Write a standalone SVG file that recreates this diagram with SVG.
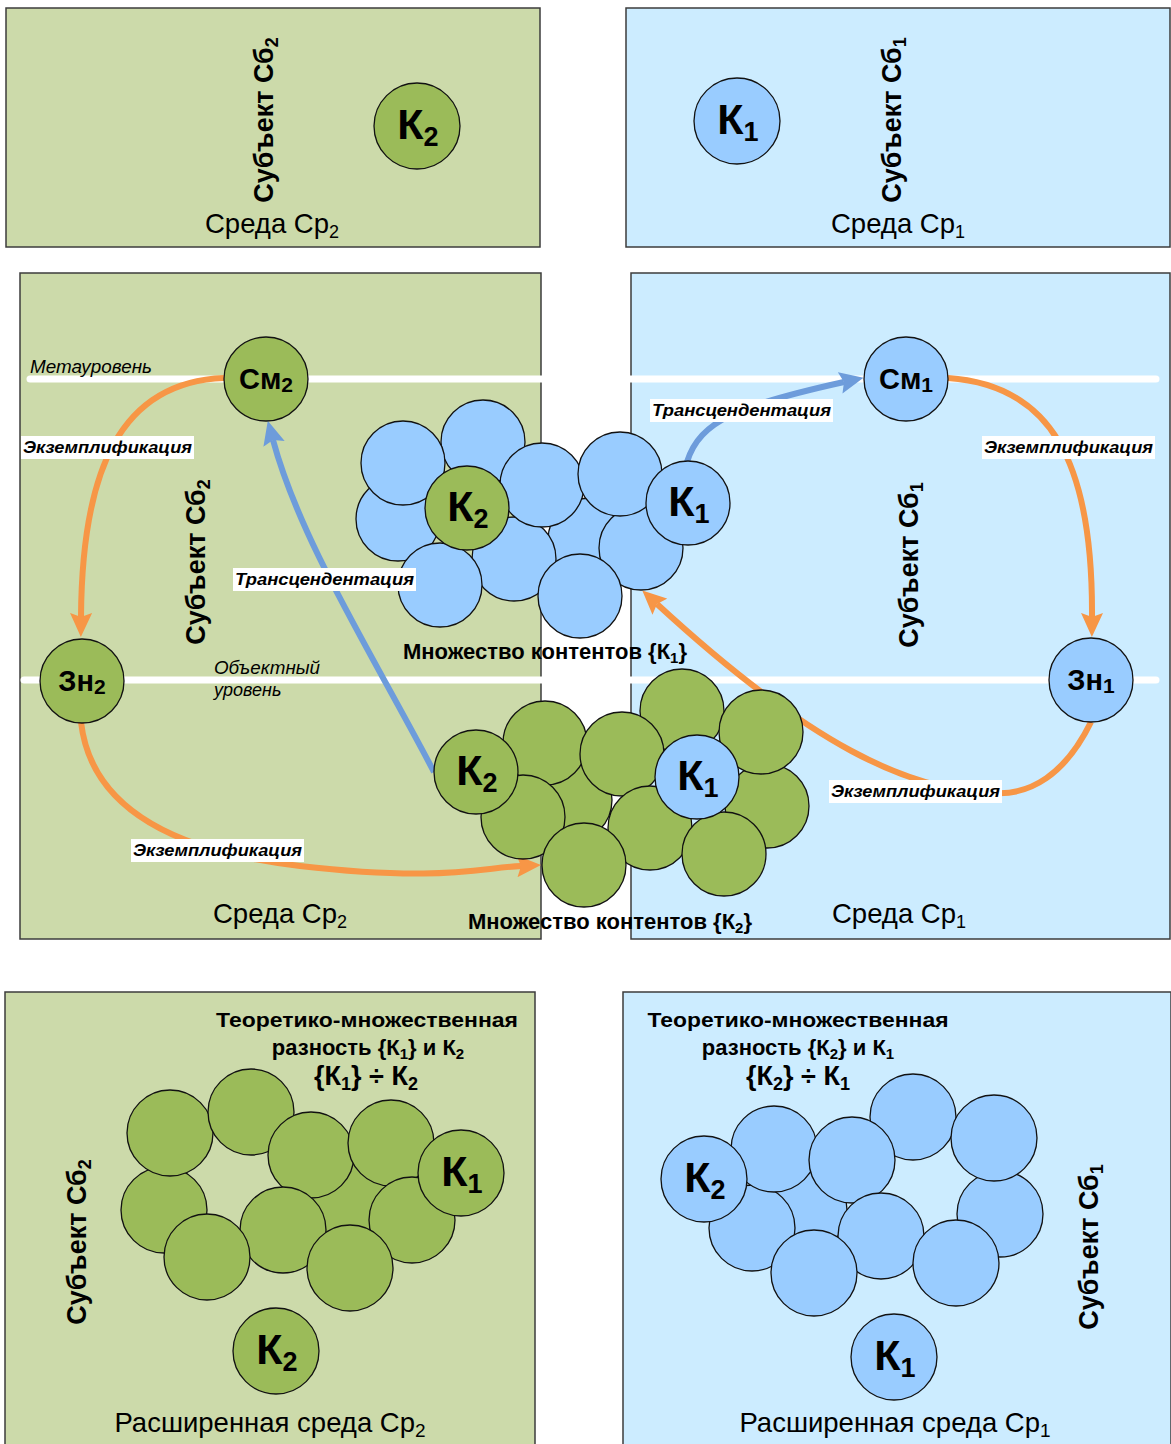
<svg xmlns="http://www.w3.org/2000/svg" width="1171" height="1444" viewBox="0 0 1171 1444">
<style>
.pg{fill:#CCDAAA;stroke:#3C3C3C;stroke-width:1.5}
.pb{fill:#CCECFF;stroke:#3C3C3C;stroke-width:1.5}
.cg{fill:#9BBB59;stroke:#111;stroke-width:1.3}
.cb{fill:#99CCFF;stroke:#111;stroke-width:1.3}
.lvl{stroke:#fff;stroke-width:7;stroke-linecap:round}
text{font-family:"Liberation Sans",Arial,sans-serif;fill:#000}
.env{font-size:27.5px;text-anchor:middle}
.subj{font-size:27px;font-weight:bold;text-anchor:middle}
.k{font-size:43px;font-weight:bold;text-anchor:middle}
.n{font-size:29px;font-weight:bold;text-anchor:middle}
.lab{font-size:17px;font-weight:bold;font-style:italic}
.lvt{font-size:18px;font-style:italic}
.set{font-size:22px;font-weight:bold}
.diff{font-weight:bold;text-anchor:middle}
.box{fill:#fff}
.oa{fill:none;stroke:#F79646;stroke-width:6}
.ba{fill:none;stroke:#6D9CDB;stroke-width:6}
</style>
<defs>
<marker id="ho" markerUnits="userSpaceOnUse" markerWidth="24" markerHeight="22" viewBox="0 0 24 22" refX="4" refY="11" orient="auto"><path d="M0,0 L24,11 L0,22 L4,11 z" fill="#F79646"/></marker>
<marker id="hb" markerUnits="userSpaceOnUse" markerWidth="24" markerHeight="22" viewBox="0 0 24 22" refX="4" refY="11" orient="auto"><path d="M0,0 L24,11 L0,22 L4,11 z" fill="#6D9CDB"/></marker>
</defs>

<!-- Top panels -->
<g id="top-left-panel">
<rect class="pg" x="6" y="8" width="534" height="239"/>
<text class="subj" transform="translate(273,120) rotate(-90)">Субъект Сб<tspan font-size="18" dy="5">2</tspan></text>
<text class="env" x="272" y="233">Среда Ср<tspan font-size="18" dy="5">2</tspan></text>
</g>
<g id="top-k2">
<circle class="cg" cx="417" cy="126" r="43"/>
<text class="k" x="418" y="139">К<tspan font-size="27" dy="7">2</tspan></text>
</g>
<g id="top-right-panel">
<rect class="pb" x="626" y="8" width="544" height="239"/>
<text class="subj" transform="translate(901,120) rotate(-90)">Субъект Сб<tspan font-size="18" dy="5">1</tspan></text>
<text class="env" x="898" y="233">Среда Ср<tspan font-size="18" dy="5">1</tspan></text>
</g>
<g id="top-k1">
<circle class="cb" cx="737" cy="121" r="43"/>
<text class="k" x="738" y="134">К<tspan font-size="27" dy="7">1</tspan></text>
</g>

<!-- Middle panels -->
<g id="mid-left-panel">
<rect class="pg" x="20" y="273" width="521" height="666"/>
</g>
<g id="mid-right-panel">
<rect class="pb" x="631" y="273" width="539" height="666"/>
</g>
<g id="levels">
<line class="lvl" x1="30" y1="379" x2="1156" y2="379"/>
<line class="lvl" x1="24" y1="680" x2="1156" y2="680"/>
<text class="lvt" x="30" y="373" textLength="122" lengthAdjust="spacingAndGlyphs">Метауровень</text>
<text class="lvt" x="214" y="674" textLength="106" lengthAdjust="spacingAndGlyphs">Объектный</text>
<text class="lvt" x="214" y="696">уровень</text>
</g>
<g id="mid-texts">
<text class="subj" transform="translate(205,562) rotate(-90)">Субъект Сб<tspan font-size="18" dy="5">2</tspan></text>
<text class="subj" transform="translate(918,565) rotate(-90)">Субъект Сб<tspan font-size="18" dy="5">1</tspan></text>
<text class="env" x="280" y="923">Среда Ср<tspan font-size="18" dy="5">2</tspan></text>
<text class="env" x="899" y="923">Среда Ср<tspan font-size="18" dy="5">1</tspan></text>
</g>

<!-- Connectors -->
<g id="connectors">
<path class="oa" marker-end="url(#ho)" d="M224,378 C120,382 82,470 81,617"/>
<path class="oa" marker-end="url(#ho)" d="M81,722 C90,800 160,850 300,866 S480,868 521,866"/>
<path class="oa" marker-end="url(#ho)" d="M948,378 C1050,385 1093,460 1092,617"/>
<path class="oa" marker-end="url(#ho)" d="M1091,722 C1065,775 1030,795 995,793 C910,792 810,745 657,604"/>
<path class="ba" marker-end="url(#hb)" d="M434,772 C370,650 300,540 273,440"/>
<path class="ba" marker-end="url(#hb)" d="M687,462 C700,420 740,405 844,382"/>
</g>

<!-- Level nodes -->
<g id="cm2"><circle class="cg" cx="266" cy="379" r="42"/><text class="n" x="266" y="389">См<tspan font-size="21" dy="3">2</tspan></text></g>
<g id="zn2"><circle class="cg" cx="82" cy="681" r="42"/><text class="n" x="82" y="691">Зн<tspan font-size="21" dy="3">2</tspan></text></g>
<g id="cm1"><circle class="cb" cx="906" cy="379" r="42"/><text class="n" x="906" y="389">См<tspan font-size="21" dy="3">1</tspan></text></g>
<g id="zn1"><circle class="cb" cx="1091" cy="680" r="42"/><text class="n" x="1091" y="690">Зн<tspan font-size="21" dy="3">1</tspan></text></g>

<!-- Blue set {K1} -->
<g id="set-k1">
<circle class="cb" cx="590" cy="540" r="42"/>
<circle class="cb" cx="398" cy="519" r="42"/>
<circle class="cb" cx="483" cy="442" r="42"/>
<circle class="cb" cx="403" cy="463" r="42"/>
<circle class="cb" cx="514" cy="559" r="42"/>
<circle class="cb" cx="440" cy="585" r="42"/>
<circle class="cb" cx="542" cy="485" r="42"/>
<circle class="cb" cx="641" cy="548" r="42"/>
<circle class="cb" cx="620" cy="474" r="42"/>
<circle class="cb" cx="580" cy="596" r="42"/>
<circle class="cg" cx="467" cy="508" r="42"/>
<text class="k" x="468" y="521">К<tspan font-size="27" dy="7">2</tspan></text>
<circle class="cb" cx="688" cy="503" r="42"/>
<text class="k" x="689" y="516">К<tspan font-size="27" dy="7">1</tspan></text>
</g>

<!-- Green set {K2} -->
<g id="set-k2">
<circle class="cg" cx="570" cy="800" r="42"/>
<circle class="cg" cx="545" cy="743" r="42"/>
<circle class="cg" cx="682" cy="711" r="42"/>
<circle class="cg" cx="622" cy="754" r="42"/>
<circle class="cg" cx="523" cy="817" r="42"/>
<circle class="cg" cx="650" cy="828" r="42"/>
<circle class="cg" cx="584" cy="865" r="42"/>
<circle class="cg" cx="767" cy="806" r="42"/>
<circle class="cg" cx="724" cy="854" r="42"/>
<circle class="cg" cx="761" cy="732" r="42"/>
<circle class="cg" cx="476" cy="772" r="42"/>
<text class="k" x="477" y="785">К<tspan font-size="27" dy="7">2</tspan></text>
<circle class="cb" cx="697" cy="777" r="42"/>
<text class="k" x="698" y="790">К<tspan font-size="27" dy="7">1</tspan></text>
</g>

<!-- Connector labels -->
<g id="connector-labels">
<rect class="box" x="21" y="436" width="173" height="23"/>
<text class="lab" x="23" y="453" textLength="169" lengthAdjust="spacingAndGlyphs">Экземплификация</text>
<rect class="box" x="982" y="436" width="173" height="23"/>
<text class="lab" x="984" y="453" textLength="169" lengthAdjust="spacingAndGlyphs">Экземплификация</text>
<rect class="box" x="131" y="839" width="173" height="23"/>
<text class="lab" x="133" y="856" textLength="169" lengthAdjust="spacingAndGlyphs">Экземплификация</text>
<rect class="box" x="829" y="780" width="173" height="23"/>
<text class="lab" x="831" y="797" textLength="169" lengthAdjust="spacingAndGlyphs">Экземплификация</text>
<rect class="box" x="233" y="568" width="183" height="23"/>
<text class="lab" x="235" y="585" textLength="179" lengthAdjust="spacingAndGlyphs">Трансцендентация</text>
<rect class="box" x="650" y="399" width="183" height="23"/>
<text class="lab" x="652" y="416" textLength="179" lengthAdjust="spacingAndGlyphs">Трансцендентация</text>
</g>

<g id="set-titles">
<text class="set" x="403" y="659">Множество контентов {К<tspan font-size="15" dy="4">1</tspan><tspan dy="-4">}</tspan></text>
<text class="set" x="468" y="929">Множество контентов {К<tspan font-size="15" dy="4">2</tspan><tspan dy="-4">}</tspan></text>
</g>

<!-- Bottom left panel -->
<g id="bottom-left-panel">
<rect class="pg" x="5" y="992" width="530" height="460"/>
<text class="diff" x="367" y="1027" font-size="21" textLength="302" lengthAdjust="spacingAndGlyphs">Теоретико-множественная</text>
<text class="diff" x="368" y="1055" font-size="22">разность {К<tspan font-size="15" dy="4">1</tspan><tspan dy="-4">} и К</tspan><tspan font-size="15" dy="4">2</tspan></text>
<text class="diff" x="366" y="1085" font-size="27">{К<tspan font-size="18" dy="5">1</tspan><tspan dy="-5">} ÷ К</tspan><tspan font-size="18" dy="5">2</tspan></text>
<text class="subj" transform="translate(86,1242) rotate(-90)">Субъект Сб<tspan font-size="18" dy="5">2</tspan></text>
<text class="env" x="270" y="1432" font-size="29">Расширенная среда Ср<tspan font-size="19" dy="5">2</tspan></text>
</g>
<g id="bottom-left-set">
<circle class="cg" cx="350" cy="1200" r="43"/>
<circle class="cg" cx="164" cy="1210" r="43"/>
<circle class="cg" cx="170" cy="1133" r="43"/>
<circle class="cg" cx="251" cy="1112" r="43"/>
<circle class="cg" cx="311" cy="1155" r="43"/>
<circle class="cg" cx="391" cy="1143" r="43"/>
<circle class="cg" cx="412" cy="1220" r="43"/>
<circle class="cg" cx="283" cy="1230" r="43"/>
<circle class="cg" cx="207" cy="1257" r="43"/>
<circle class="cg" cx="350" cy="1268" r="43"/>
<circle class="cg" cx="461" cy="1173" r="43"/>
<text class="k" x="462" y="1186">К<tspan font-size="27" dy="7">1</tspan></text>
</g>
<g id="bottom-left-k2">
<circle class="cg" cx="276" cy="1351" r="43"/>
<text class="k" x="277" y="1364">К<tspan font-size="27" dy="7">2</tspan></text>
</g>

<!-- Bottom right panel -->
<g id="bottom-right-panel">
<rect class="pb" x="623" y="992" width="548" height="460"/>
<text class="diff" x="798" y="1027" font-size="21" textLength="301" lengthAdjust="spacingAndGlyphs">Теоретико-множественная</text>
<text class="diff" x="798" y="1055" font-size="22">разность {К<tspan font-size="15" dy="4">2</tspan><tspan dy="-4">} и К</tspan><tspan font-size="15" dy="4">1</tspan></text>
<text class="diff" x="798" y="1085" font-size="27">{К<tspan font-size="18" dy="5">2</tspan><tspan dy="-5">} ÷ К</tspan><tspan font-size="18" dy="5">1</tspan></text>
<text class="subj" transform="translate(1098,1247) rotate(-90)">Субъект Сб<tspan font-size="18" dy="5">1</tspan></text>
<text class="env" x="895" y="1432" font-size="29">Расширенная среда Ср<tspan font-size="19" dy="5">1</tspan></text>
</g>
<g id="bottom-right-set">
<circle class="cb" cx="804" cy="1210" r="43"/>
<circle class="cb" cx="913" cy="1117" r="43"/>
<circle class="cb" cx="752" cy="1228" r="43"/>
<circle class="cb" cx="774" cy="1149" r="43"/>
<circle class="cb" cx="852" cy="1160" r="43"/>
<circle class="cb" cx="881" cy="1236" r="43"/>
<circle class="cb" cx="1000" cy="1214" r="43"/>
<circle class="cb" cx="994" cy="1138" r="43"/>
<circle class="cb" cx="956" cy="1263" r="43"/>
<circle class="cb" cx="814" cy="1273" r="43"/>
<circle class="cb" cx="704" cy="1179" r="43"/>
<text class="k" x="705" y="1192">К<tspan font-size="27" dy="7">2</tspan></text>
</g>
<g id="bottom-right-k1">
<circle class="cb" cx="894" cy="1357" r="43"/>
<text class="k" x="895" y="1370">К<tspan font-size="27" dy="7">1</tspan></text>
</g>
</svg>
